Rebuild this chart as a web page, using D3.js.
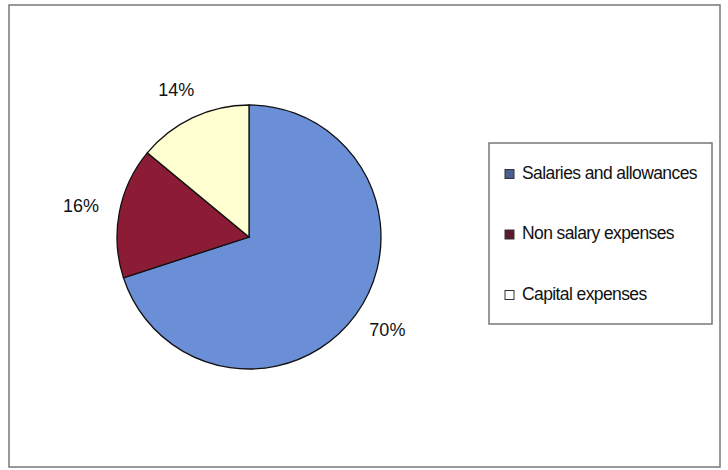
<!DOCTYPE html>
<html><head><meta charset="utf-8">
<script src="https://cdn.jsdelivr.net/npm/d3@7"></script>
<style>body{margin:0;background:#fff}svg{display:block}</style>
</head><body>
<script>
const categories = ["Salaries and allowances", "Non salary expenses", "Capital expenses"];
const values = [70, 16, 14];
const labels = ["70%", "16%", "14%"];
const colors = ["#6a8fd6", "#8c1c35", "#ffffd2"];
const legendColors = ["#4a5f8e", "#5a1a2c", "#ffffff"];

const W = 728, H = 470;
const svg = d3.select("body").append("svg").attr("width", W).attr("height", H);
svg.append("rect").attr("x", 9).attr("y", 5).attr("width", 711).attr("height", 462)
  .attr("fill", "#fff").attr("stroke", "#777").attr("stroke-width", 1.5);

const cx = 249, cy = 237, r = 132;
const pie = d3.pie().sort(null).value(d => d)(values);
const arc = d3.arc().innerRadius(0).outerRadius(r);
const g = svg.append("g").attr("transform", `translate(${cx},${cy})`);
g.selectAll("path").data(pie).join("path")
  .attr("d", arc).attr("fill", (d, i) => colors[i])
  .attr("stroke", "#111").attr("stroke-width", 1.3);

const lr = r * 1.22;
g.selectAll("text").data(pie).join("text")
  .attr("transform", d => {
    const a = (d.startAngle + d.endAngle) / 2;
    const dx = Math.sin(a), dy = -Math.cos(a);
    return `translate(${dx * lr + dx * 10},${dy * lr})`;
  })
  .attr("text-anchor", "middle").attr("dominant-baseline", "middle")
  .attr("font-family", "Liberation Sans, Arial, sans-serif").attr("font-size", 18)
  .attr("fill", "#111")
  .text((d, i) => labels[i]);

// legend
const lg = svg.append("g");
lg.append("rect").attr("x", 489).attr("y", 143).attr("width", 223).attr("height", 181)
  .attr("fill", "#fff").attr("stroke", "#777").attr("stroke-width", 1.5);
const rowY = d3.scalePoint().domain(categories).range([174, 295]);
const items = lg.selectAll("g.item").data(categories).join("g").attr("class", "item")
  .attr("transform", d => `translate(505,${rowY(d)})`);
items.append("rect").attr("x", 0).attr("y", -4.5).attr("width", 9).attr("height", 9)
  .attr("fill", (d, i) => legendColors[i]).attr("stroke", "#333").attr("stroke-width", 1);
items.append("text").attr("x", 17).attr("y", 0).attr("dominant-baseline", "middle")
  .attr("font-family", "Liberation Sans, Arial, sans-serif").attr("font-size", 17.5)
  .attr("letter-spacing", -0.6).attr("fill", "#111")
  .text(d => d);
</script>
</body></html>
